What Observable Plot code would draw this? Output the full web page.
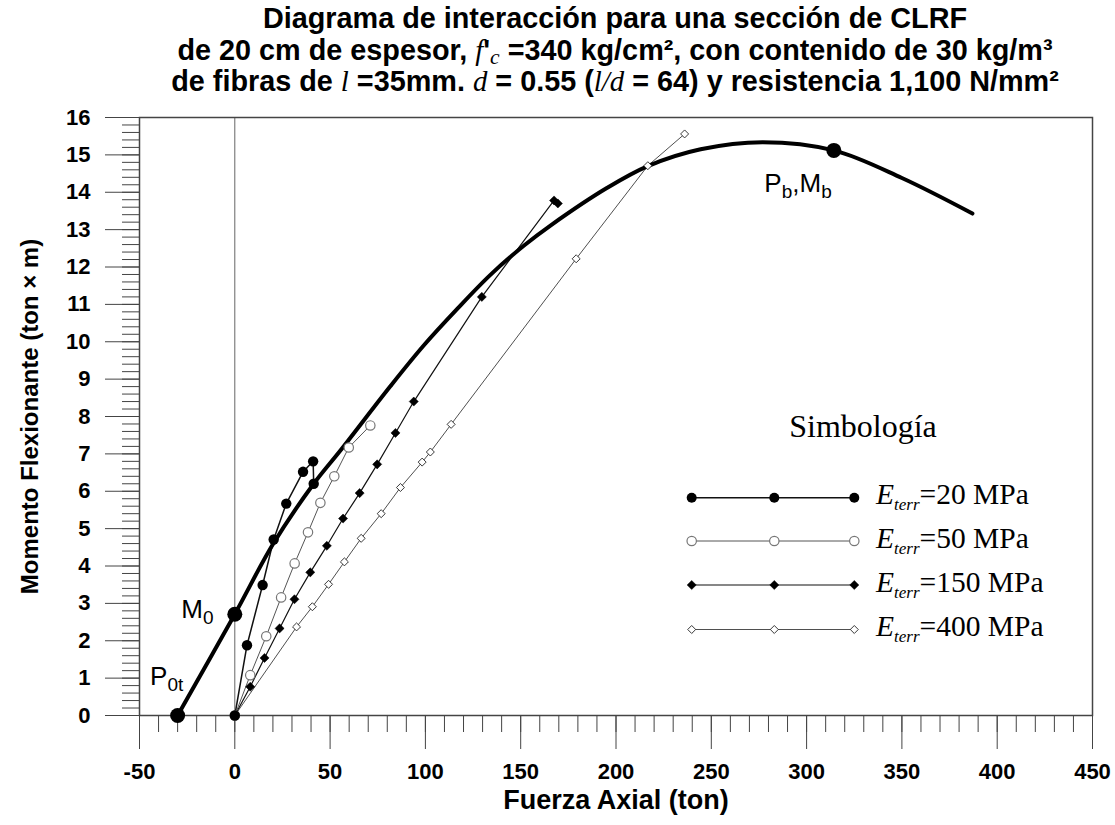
<!DOCTYPE html>
<html>
<head>
<meta charset="utf-8">
<script src="https://cdn.jsdelivr.net/npm/d3@7"></script>
<script src="https://cdn.jsdelivr.net/npm/@observablehq/plot@0.6"></script>
<style>
  html, body { margin: 0; padding: 0; background: white; }
  body { width: 1115px; font-family: 'Liberation Sans', Arial, sans-serif; }
  #title { height: 100px; width: 1000px; margin-left: 115px; text-align: center; font-weight: bold; font-size: 28.8px; line-height: 31.5px; padding-top: 3px; box-sizing: border-box; color: #000; }
  #title .s { font-family: 'Liberation Serif', 'Times New Roman', serif; font-style: italic; font-weight: normal; }
  #title sub { font-size: 0.75em; vertical-align: -0.2em; line-height: 0; }
  #chart svg { display: block; }
  #chart [aria-label="y-axis tick label"], #chart [aria-label="x-axis tick label"] { font-weight: bold; }
</style>
</head>
<body>
<div id="title">
  <div>Diagrama de interacción para una sección de CLRF</div>
  <div>de 20 cm de espesor, <span class="s">f</span>'<sub class="s">c</sub> =340 kg/cm², con contenido de 30 kg/m³</div>
  <div>de fibras de <span class="s">l</span> =35mm. <span class="s">d</span> = 0.55 (<span class="s">l/d</span> = 64) y resistencia 1,100 N/mm²</div>
</div>
<div id="chart"></div>
<script>
// Interaction diagram (thick curve)
const curveP = [-30, 0, 20, 41.4, 55.4, 81.6, 99.1, 116.7, 134.1, 151.6, 165.6, 195.4, 216.7, 244.4, 277, 314.3, 350, 387];
const curveM = [0, 2.71, 4.58, 6.2, 7.09, 8.81, 9.9, 10.88, 11.79, 12.57, 13.11, 14.12, 14.7, 15.15, 15.34, 15.12, 14.38, 13.43];

// Key points: P0t, M0, Pb/Mb
const keyP = [-30, 0, 314.3];
const keyM = [0, 2.71, 15.12];

// E_terr = 20 MPa (filled circles)
const p20 = [0, 6.4, 14.6, 20.4, 27, 35.8, 41.1, 41.4];
const m20 = [0, 1.88, 3.49, 4.71, 5.67, 6.52, 6.8, 6.2];
// E_terr = 50 MPa (open circles)
const p50 = [0, 8.1, 16.5, 24.3, 31.4, 38.4, 44.9, 52.2, 59.8, 71.1];
const m50 = [0, 1.08, 2.12, 3.16, 4.07, 4.9, 5.69, 6.4, 7.17, 7.76];
// E_terr = 150 MPa (filled diamonds)
const p150 = [0, 8.1, 15.6, 23.5, 31.3, 39.6, 48.3, 56.8, 65.5, 74.7, 84.3, 93.9, 129.6, 167.5, 169.5];
const m150 = [0, 0.77, 1.54, 2.33, 3.11, 3.83, 4.54, 5.27, 5.95, 6.72, 7.56, 8.4, 11.2, 13.78, 13.7];
// E_terr = 400 MPa (open diamonds)
const p400 = [0, 32.4, 40.7, 49.2, 57.5, 66.3, 76.8, 86.9, 98.3, 102.6, 113.5, 179.1, 216.7, 236];
const m400 = [0, 2.37, 2.91, 3.51, 4.11, 4.74, 5.4, 6.1, 6.78, 7.05, 7.79, 12.22, 14.71, 15.56];

const xTicks = [-50, 0, 50, 100, 150, 200, 250, 300, 350, 400, 450];
const yTicks = [0, 1, 2, 3, 4, 5, 6, 7, 8, 9, 10, 11, 12, 13, 14, 15, 16];
const legendValues = ["20", "50", "150", "400"];

const rows = (P, M) => P.map((p, i) => ({P: p, M: M[i]}));
const curveRows = rows(curveP, curveM);
const keyRows = rows(keyP, keyM);
const r20 = rows(p20, m20), r50 = rows(p50, m50), r150 = rows(p150, m150), r400 = rows(p400, m400);

const xMinor = d3.range(-50, 451, 10);
const yMinor = d3.range(0, 80.5, 1).map(d => d / 5);

const axisColor = "#444";

const chart = Plot.plot({
  width: 1115,
  height: 725,
  marginTop: 17,
  marginRight: 23,
  marginBottom: 110,
  marginLeft: 139,
  x: {domain: [-50, 450]},
  y: {domain: [0, 16]},
  style: {fontFamily: "'Liberation Sans', Arial, sans-serif", background: "white", color: "black", overflow: "visible"},
  marks: [
    Plot.axisY(yMinor, {tickSize: 17, tickFormat: () => "", label: null, stroke: axisColor}),
    Plot.axisY(yTicks, {tickSize: 34, tickPadding: 15, tickFormat: d => String(d), fontSize: 22, fontWeight: "bold", label: null, stroke: axisColor, fill: "black"}),
    Plot.axisX(xMinor, {tickSize: 17, tickFormat: () => "", label: null, stroke: axisColor}),
    Plot.axisX(xTicks, {tickSize: 34, tickPadding: 14, tickFormat: d => String(d), fontSize: 22, fontWeight: "bold", label: null, stroke: axisColor, fill: "black"}),
    Plot.ruleX([0], {stroke: "#666", strokeWidth: 1}),
    Plot.frame({stroke: axisColor, strokeWidth: 1.5}),
    Plot.text(["Fuerza Axial (ton)"], {frameAnchor: "bottom", dy: 85, lineAnchor: "middle", textAnchor: "middle", fontSize: 27, fontWeight: "bold", fill: "black"}),
    Plot.text(["Momento Flexionante (ton × m)"], {frameAnchor: "left", dx: -109, rotate: -90, textAnchor: "middle", lineAnchor: "middle", fontSize: 24, fontWeight: "bold", fill: "black"}),
    // series lines
    Plot.line(r400, {x: "P", y: "M", stroke: "#222", strokeWidth: 0.8}),
    Plot.line(r150, {x: "P", y: "M", stroke: "#111", strokeWidth: 1.2}),
    Plot.line(r50, {x: "P", y: "M", stroke: "#555", strokeWidth: 1}),
    Plot.line(r20, {x: "P", y: "M", stroke: "#111", strokeWidth: 1.5}),
    // interaction curve
    Plot.line(curveRows, {x: "P", y: "M", curve: "catmull-rom", stroke: "black", strokeWidth: 4}),
    // markers
    Plot.dot(r400, {x: "P", y: "M", symbol: "diamond2", r: 3.6, fill: "white", stroke: "#222", strokeWidth: 0.9}),
    Plot.dot(r150, {x: "P", y: "M", symbol: "diamond2", r: 4.1, fill: "black", stroke: "black", strokeWidth: 0.5}),
    Plot.dot(r50, {x: "P", y: "M", r: 4.7, fill: "white", stroke: "#777", strokeWidth: 1.2}),
    Plot.dot(r20, {x: "P", y: "M", r: 5.2, fill: "black", stroke: "none"}),
    Plot.dot(keyRows, {x: "P", y: "M", r: 7.5, fill: "black", stroke: "none"})
  ]
});
document.getElementById("chart").appendChild(chart);

const svg = d3.select(chart);
const sx = chart.scale("x"), sy = chart.scale("y");

// Annotations at key points
const annos = [
  {i: 0, dx: -27, dy: -30, parts: [["P", 0], ["0t", 1]]},
  {i: 1, dx: -53, dy: 4, parts: [["M", 0], ["0", 1]]},
  {i: 2, dx: -69, dy: 42, parts: [["P", 0], ["b", 1], [",M", 0], ["b", 1]]}
];
annos.forEach(a => {
  const t = svg.append("text")
    .attr("x", sx.apply(keyP[a.i]) + a.dx)
    .attr("y", sy.apply(keyM[a.i]) + a.dy)
    .attr("text-anchor", "start")
    .attr("font-family", "'Liberation Sans', Arial, sans-serif")
    .attr("font-size", 26)
    .attr("fill", "black");
  let prevSub = 0;
  a.parts.forEach(([s, sub]) => {
    const shift = (sub ? 6 : 0) - (prevSub ? 6 : 0);
    t.append("tspan").attr("dy", shift).attr("font-size", sub ? 19 : 26).text(s);
    prevSub = sub;
  });
});

// Legend
const lg = svg.append("g").attr("text-anchor", "start");
const serif = "'Liberation Serif', 'Times New Roman', serif";
lg.append("text").attr("x", 863).attr("y", 337).attr("text-anchor", "middle")
  .attr("font-family", serif).attr("font-size", 32).attr("fill", "black").text("Simbología");
const legendRowsY = [397.7, 441, 485, 529.5];
const legendX = [691.7, 774.3, 854.3];
const styles = [
  {line: "#111", lw: 1.5, sym: d3.symbolCircle, r: 5, fill: "black", stroke: "none", sw: 0},
  {line: "#555", lw: 1, sym: d3.symbolCircle, r: 4.7, fill: "white", stroke: "#777", sw: 1.2},
  {line: "#111", lw: 1.2, sym: d3.symbolDiamond2, r: 4.1, fill: "black", stroke: "black", sw: 0.5},
  {line: "#222", lw: 0.8, sym: d3.symbolDiamond2, r: 3.6, fill: "white", stroke: "#222", sw: 0.9}
];
legendValues.forEach((v, k) => {
  const y = legendRowsY[k], st = styles[k];
  lg.append("line").attr("x1", legendX[0]).attr("x2", legendX[2]).attr("y1", y).attr("y2", y)
    .attr("stroke", st.line).attr("stroke-width", st.lw);
  legendX.forEach(x => {
    lg.append("path").attr("transform", `translate(${x},${y})`)
      .attr("d", d3.symbol(st.sym, Math.PI * st.r * st.r)())
      .attr("fill", st.fill).attr("stroke", st.stroke).attr("stroke-width", st.sw);
  });
  const t = lg.append("text").attr("x", 876).attr("y", y + 6.5).attr("text-anchor", "start")
    .attr("font-family", serif).attr("font-size", 29.5).attr("fill", "black");
  t.append("tspan").attr("font-style", "italic").text("E");
  t.append("tspan").attr("font-style", "italic").attr("font-size", 17).attr("dy", 6).text("terr");
  t.append("tspan").attr("dy", -6).text("=" + v + " MPa");
});
</script>
</body>
</html>
